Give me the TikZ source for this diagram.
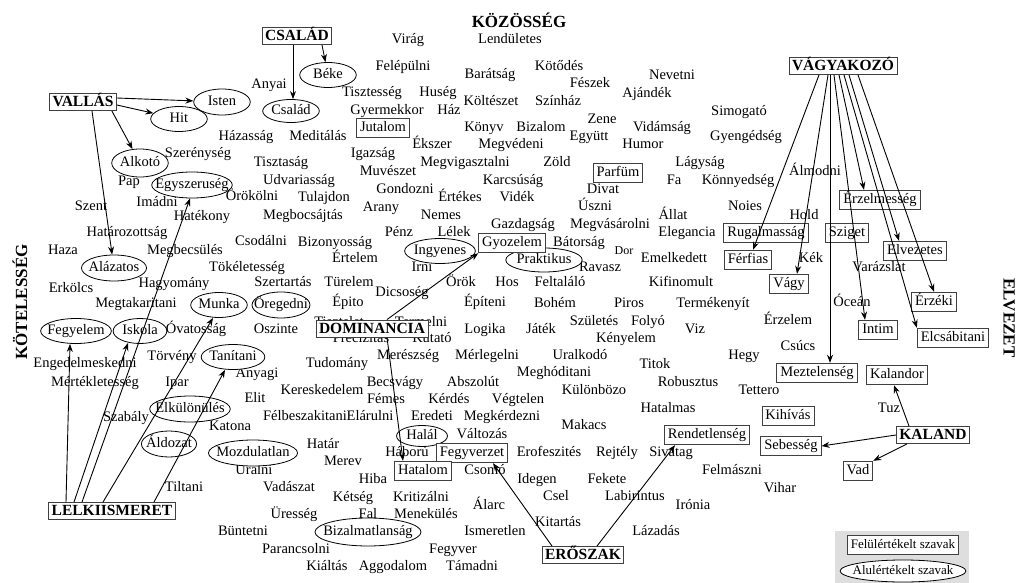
\documentclass[tikz,border=0pt]{standalone}
\usepackage{fontspec}
\setmainfont{Liberation Serif}
\usetikzlibrary{arrows.meta,shapes.geometric}
\newcommand\wf{\fontsize{14.5}{16}\selectfont}
\newcommand\bfnt{\fontsize{15.5}{17}\selectfont\bfseries}
\newcommand\tfnt{\fontsize{17}{19}\selectfont\bfseries}
\newcommand\W[3]{\node[w] (#1) at (#2) {#3};}
\newcommand\E[5]{\node[ell, minimum height=#4pt] (#1) at (#2) {\makebox[#3pt]{#5}};}
\newcommand\B[3]{\node[bx] (#1) at (#2) {#3};}
\newcommand\BB[3]{\node[bbx] (#1) at (#2) {#3};}
\tikzset{
  w/.style={inner sep=0pt, font=\wf, text height=10pt, text depth=3pt},
  ell/.style={ellipse, draw=black, line width=0.8pt, fill=white, inner sep=0pt, font=\wf, text height=10pt, text depth=3pt},
  bx/.style={rectangle, draw=black!75, line width=0.9pt, fill=white, inner xsep=3.5pt, inner ysep=3pt, font=\wf, text height=10.5pt, text depth=3pt},
  bbx/.style={rectangle, draw=black!75, line width=0.9pt, fill=white, inner xsep=3pt, inner ysep=2pt, font=\bfnt, text height=11pt, text depth=2pt},
  ttl/.style={inner sep=0pt, font=\tfnt},
  arr/.style={-{Stealth[length=8pt,width=6pt]}, line width=0.9pt, black},
}
\begin{document}
\begin{tikzpicture}[x=1pt,y=-1pt]
\fill[white] (0,0) rectangle (1017,583);
\useasboundingbox (0,0) rectangle (1017,583);
% titles
\node[ttl] (tkoz) at (519,20) {KÖZÖSSÉG};
\node[ttl, rotate=90] (tkot) at (20,302) {KÖTELESSÉG};
\node[ttl, rotate=-90] (telv) at (1009,318) {ELVEZET};
% plain words
\W{virag}{408,40}{Virág}
\W{lendul}{510,40}{Lendületes}
\W{felep}{403,67}{Felépülni}
\W{barat}{490,75}{Barátság}
\W{kotod}{559,67}{Kötődés}
\W{nevet}{672,76}{Nevetni}
\W{feszek}{590,84}{Fészek}
\W{anyai}{269,85}{Anyai}
\W{tiszt}{372,93}{Tisztesség}
\W{huseg}{438,93}{Huség}
\W{ajand}{647,94}{Ajándék}
\W{kolt}{491,102}{Költészet}
\W{szinh}{558,102}{Színház}
\W{gyerm}{387,111}{Gyermekkor}
\W{haz}{449,111}{Ház}
\W{simog}{739,112}{Simogató}
\W{zene}{602,120}{Zene}
\W{konyv}{484,128}{Könyv}
\W{bizal}{541,128}{Bizalom}
\W{vidam}{662,128}{Vidámság}
\W{egyutt}{589,137}{Együtt}
\W{hazas}{246,137}{Házasság}
\W{medit}{318,137}{Meditálás}
\W{gyeng}{746,137}{Gyengédség}
\W{ekszer}{432,145}{Ékszer}
\W{megved}{511,145}{Megvédeni}
\W{humor}{643,145}{Humor}
\W{szeren}{198,154}{Szerénység}
\W{igazs}{373,154}{Igazság}
\W{tisztas}{281,163}{Tisztaság}
\W{megvig}{465,163}{Megvigasztalni}
\W{zold}{557,163}{Zöld}
\W{lagys}{700,163}{Lágyság}
\W{muvesz}{388,172}{Muvészet}
\W{almod}{815,172}{Álmodni}
\W{karcs}{513,181}{Karcsúság}
\W{udvar}{299,181}{Udvariasság}
\W{fa}{674,181}{Fa}
\W{konnyed}{738,181}{Könnyedség}
\W{pap}{129,182}{Pap}
\W{gondoz}{405,190}{Gondozni}
\W{divat}{603,190}{Divat}
\W{orokol}{252,197}{Örökölni}
\W{tulajd}{324,198}{Tulajdon}
\W{ertekes}{460,198}{Értékes}
\W{videk}{517,198}{Vidék}
\W{imadni}{157,203}{Imádni}
\W{szent}{91,207}{Szent}
\W{uszni}{595,207}{Úszni}
\W{noies}{745,207}{Noies}
\W{arany}{381,208}{Arany}
\W{hateko}{202,217}{Hatékony}
\W{megbocs}{303,216}{Megbocsájtás}
\W{nemes}{441,216}{Nemes}
\W{allat}{673,216}{Állat}
\W{hold}{804,216}{Hold}
\W{gazdag}{523,225}{Gazdagság}
\W{megvas}{610,225}{Megvásárolni}
\W{hataroz}{127,233}{Határozottság}
\W{penz}{399,233}{Pénz}
\W{lelek}{454,233}{Lélek}
\W{eleg}{687,233}{Elegancia}
\W{csodal}{261,242}{Csodálni}
\W{bizony}{335,243}{Bizonyosság}
\W{bator}{579,243}{Bátorság}
\W{haza}{63,251}{Haza}
\W{megbecs}{185,251}{Megbecsülés}
\node[w, font=\fontsize{12}{14}\selectfont] (dor) at (624,251) {Dor};
\W{ertelem}{355,259}{Értelem}
\W{emelk}{674,259}{Emelkedett}
\W{kek}{811,259}{Kék}
\W{tokel}{247,268}{Tökéletesség}
\W{irni}{422,268}{Irni}
\W{ravasz}{600,268}{Ravasz}
\W{varazs}{879,268}{Varázslat}
\W{szert}{283,283}{Szertartás}
\W{turel}{349,283}{Türelem}
\W{orok}{461,283}{Örök}
\W{hos}{507,283}{Hos}
\W{feltal}{560,283}{Feltaláló}
\W{kifin}{681,283}{Kifinomult}
\W{hagyom}{174,284}{Hagyomány}
\W{erkolcs}{71,289}{Erkölcs}
\W{dicso}{402,293}{Dicsoség}
\W{epito}{348,303}{Épito}
\W{epiteni}{485,303}{Építeni}
\W{ocean}{852,303}{Óceán}
\W{bohem}{555,304}{Bohém}
\W{piros}{629,304}{Piros}
\W{termek}{713,304}{Termékenyít}
\W{megtak}{136,304}{Megtakaritani}
\W{tiszte}{339,323}{Tisztelet}
\W{termel}{421,323}{Termelni}
\W{erzelem}{788,321}{Érzelem}
\W{szulet}{594,322}{Születés}
\W{folyo}{648,322}{Folyó}
\W{ovatos}{196,330}{Óvatosság}
\W{oszinte}{276,330}{Oszinte}
\W{logika}{485,330}{Logika}
\W{jatek}{541,330}{Játék}
\W{viz}{695,330}{Viz}
\W{kenyel}{626,339}{Kényelem}
\W{precsiz}{361,339}{Precizitás}
\W{kutato}{432,339}{Kutató}
\W{csucs}{798,347}{Csúcs}
\W{meresz}{408,356}{Merészség}
\W{merleg}{487,356}{Mérlegelni}
\W{uralk}{580,356}{Uralkodó}
\W{hegy}{744,356}{Hegy}
\W{torveny}{172,357}{Törvény}
\W{engedel}{85,364}{Engedelmeskedni}
\W{tudom}{337,364}{Tudomány}
\W{titok}{655,365}{Titok}
\W{meghod}{554,373}{Meghóditani}
\W{anyagi}{257,374}{Anyagi}
\W{mertek}{95,383}{Mértékletesség}
\W{ipar}{177,383}{Ipar}
\W{becsv}{395,383}{Becsvágy}
\W{abszol}{473,383}{Abszolút}
\W{robusz}{688,383}{Robusztus}
\W{keresk}{322,391}{Kereskedelem}
\W{kulonb}{594,391}{Különbözo}
\W{tettero}{759,391}{Tettero}
\W{elit}{255,399}{Elit}
\W{femes}{386,400}{Fémes}
\W{kerdes}{449,400}{Kérdés}
\W{vegtel}{518,400}{Végtelen}
\W{hatalm}{668,409}{Hatalmas}
\W{tuz}{889,409}{Tuz}
\W{felbesz}{305,417}{Félbeszakitani}
\W{elarul}{370,417}{Elárulni}
\W{eredeti}{432,417}{Eredeti}
\W{megkerd}{502,417}{Megkérdezni}
\W{szabaly}{126,418}{Szabály}
\W{makacs}{584,426}{Makacs}
\W{katona}{230,427}{Katona}
\W{valtoz}{482,435}{Változás}
\W{hatar}{323,445}{Határ}
\W{haboru}{407,453}{Háború}
\W{erofesz}{549,453}{Erofeszités}
\W{rejtely}{617,453}{Rejtély}
\W{sivatag}{671,453}{Sivatag}
\W{merev}{343,462}{Merev}
\W{uralni}{254,471}{Uralni}
\W{csomo}{485,471}{Csomó}
\W{felmasz}{732,471}{Felmászni}
\W{hiba}{373,480}{Hiba}
\W{idegen}{537,480}{Idegen}
\W{fekete}{607,480}{Fekete}
\W{tiltani}{184,488}{Tiltani}
\W{vadasz}{289,488}{Vadászat}
\W{vihar}{780,489}{Vihar}
\W{csel}{556,497}{Csel}
\W{labir}{635,497}{Labirintus}
\W{ketseg}{353,498}{Kétség}
\W{kritiz}{421,498}{Kritizálni}
\W{alarc}{489,506}{Álarc}
\W{ironia}{693,506}{Irónia}
\W{uresseg}{294,515}{Üresség}
\W{fal}{368,515}{Fal}
\W{menek}{426,515}{Menekülés}
\W{kitart}{558,523}{Kitartás}
\W{buntet}{243,532}{Büntetni}
\W{ismer}{495,532}{Ismeretlen}
\W{lazad}{656,532}{Lázadás}
\W{paranc}{296,550}{Parancsolni}
\W{fegyver}{453,550}{Fegyver}
\W{kialt}{327,567}{Kiáltás}
\W{aggod}{393,567}{Aggodalom}
\W{tamad}{472,567}{Támadni}
% ellipses (undervalued words)
\E{isten}{222,102}{40}{26}{Isten}
\E{hit}{179,119}{40}{25}{Hit}
\E{beke}{328,75}{40}{25}{Béke}
\E{csaladE}{291,111}{40}{23}{Család}
\E{alkoto}{140,163}{40}{28}{Alkotó}
\E{egysz}{192,185}{57}{26}{Egyszeruség}
\E{alazat}{114,268}{46}{26}{Alázatos}
\E{ingyen}{440,251}{50}{25}{Ingyenes}
\E{prakt}{544,260}{54}{24}{Praktikus}
\E{munka}{219,305}{40}{25}{Munka}
\E{oreg}{281,305}{41}{26}{Öregedni}
\E{fegyel}{76,331}{50}{25}{Fegyelem}
\E{iskola}{140,331}{38}{25}{Iskola}
\E{tanit}{233,357}{45}{25}{Tanítani}
\E{elkul}{190,409}{57}{26}{Elkülönülés}
\E{aldoz}{169,444}{39}{26}{Áldozat}
\E{mozdul}{253,453}{63}{26}{Mozdulatlan}
\E{halal}{422,436}{36}{21}{Halál}
\E{bizalm}{368,532}{75}{28}{Bizalmatlanság}
% boxes (overvalued words)
\B{jutal}{383,128}{Jutalom}
\B{parfum}{618,173}{Parfüm}
\B{erzelm}{880,200}{Érzelmesség}
\B{rugal}{766,233}{Rugalmasság}
\B{sziget}{847,233}{Sziget}
\B{gyoz}{512,243}{Gyozelem}
\B{elvez}{915,251}{Elvezetes}
\B{ferfi}{748,260}{Férfias}
\B{vagy}{789,284}{Vágy}
\B{erzeki}{934,302}{Érzéki}
\B{intim}{878,330}{Intim}
\B{elcsab}{953,338}{Elcsábitani}
\B{meztel}{817,373}{Meztelenség}
\B{kalandor}{897,375}{Kalandor}
\B{kihiv}{788,416}{Kihívás}
\B{rendet}{707,435}{Rendetlenség}
\B{sebes}{791,446}{Sebesség}
\B{fegyvz}{472,453}{Fegyverzet}
\B{hatalom}{423,471}{Hatalom}
\B{vad}{858,471}{Vad}
% bold category boxes
\BB{csalad}{297,36}{CSALÁD}
\BB{vallas}{83,102}{VALLÁS}
\BB{vagyak}{843,66}{VÁGYAKOZÓ}
\BB{domin}{372,328.5}{DOMINANCIA}
\BB{kaland}{933,435}{KALAND}
\BB{lelki}{112,511}{LELKIISMERET}
\BB{erosz}{583,555}{ERŐSZAK}
% connectors
\draw[arr] ([yshift=4pt]vallas.east) -- (isten);
\draw[arr] ([yshift=-3pt]vallas.east) -- (hit);
\draw[arr] ([xshift=-5pt]vallas.south east) -- (alkoto);
\draw[arr] ([xshift=9pt]vallas.south) -- (alazat);
\draw[arr] ([xshift=25pt]csalad.south) -- (beke);
\draw[arr] ([xshift=-4pt]csalad.south) -- ([xshift=2pt]csaladE.north);
\draw[arr] ([xshift=-46pt]lelki.north) -- ([xshift=-6pt]fegyel.south);
\draw[arr] ([xshift=-38pt]lelki.north) -- ([xshift=-12pt,yshift=1pt]iskola.south);
\draw[arr] ([xshift=-30pt]lelki.north) -- ([xshift=-2pt]egysz.south);
\draw[arr] ([xshift=-9pt]lelki.north) -- ([xshift=-6pt]munka.south);
\draw[arr] ([xshift=42pt]lelki.north) -- ([xshift=-8pt]tanit.south);
\draw[arr] ([xshift=15pt]domin.north) -- (gyoz.south west);
\draw[arr] ([xshift=15pt]domin.south) -- ([xshift=-20pt]hatalom.north);
\draw[arr] ([xshift=-31pt]erosz.north) -- ([xshift=21pt]fegyvz.south);
\draw[arr] ([xshift=14pt]erosz.north) -- ([xshift=-32pt]rendet.south);
\draw[arr] ([xshift=-24pt]vagyak.south) -- ([xshift=5pt]ferfi.north);
\draw[arr] ([xshift=-15pt]vagyak.south) -- ([xshift=8pt]vagy.north);
\draw[arr] ([xshift=-13pt]vagyak.south) -- ([xshift=13pt]meztel.north);
\draw[arr] ([xshift=-9pt]vagyak.south) -- ([xshift=-13pt]intim.north);
\draw[arr] ([xshift=-4pt]vagyak.south) -- ([xshift=-16pt]erzelm.north);
\draw[arr] ([xshift=1pt]vagyak.south) -- (elcsab.north west);
\draw[arr] ([xshift=6pt]vagyak.south) -- ([xshift=-16pt]elvez.north);
\draw[arr] ([xshift=15pt]vagyak.south) -- (erzeki.north);
\draw[arr] ([xshift=-24pt]kaland.north) -- ([xshift=-3pt]kalandor.south);
\draw[arr] (kaland.west) -- (sebes.east);
\draw[arr] ([xshift=-26pt]kaland.south) -- (vad.north east);
% legend
\fill[black!13] (835,531) rectangle (969,583);
\node[bx, font=\fontsize{13}{15}\selectfont] (legbox) at (903,545) {Felülértékelt szavak};
\node[ell, font=\fontsize{13}{15}\selectfont, minimum height=22pt] (legell) at (903,571) {\makebox[89pt]{Alulértékelt szavak}};
\end{tikzpicture}
\end{document}
